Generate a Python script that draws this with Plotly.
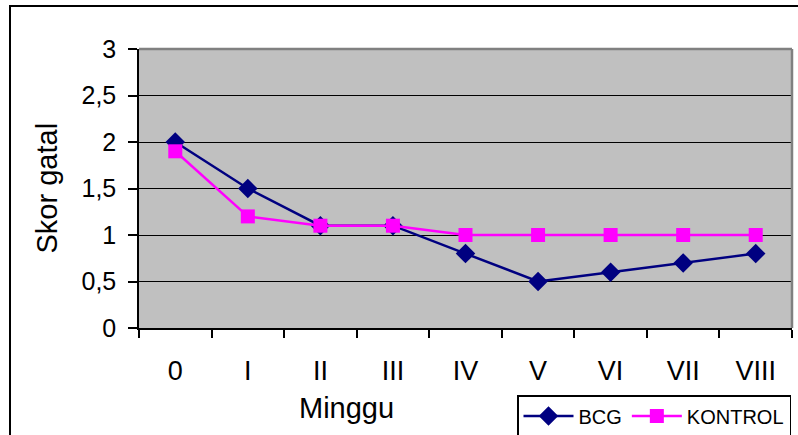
import plotly.graph_objects as go

weeks = ["0", "I", "II", "III", "IV", "V", "VI", "VII", "VIII"]
bcg = [2.0, 1.5, 1.1, 1.1, 0.8, 0.5, 0.6, 0.7, 0.8]
kontrol = [1.9, 1.2, 1.1, 1.1, 1.0, 1.0, 1.0, 1.0, 1.0]
y_ticks = [0, 0.5, 1, 1.5, 2, 2.5, 3]
y_tick_text = ["0", "0,5", "1", "1,5", "2", "2,5", "3"]

FONT = "Arial, Liberation Sans, sans-serif"

fig = go.Figure()
fig.add_trace(go.Scatter(
    x=weeks, y=bcg, name="BCG", mode="lines+markers",
    line=dict(color="#000080", width=2.5),
    marker=dict(symbol="diamond", size=15, color="#000080"),
))
fig.add_trace(go.Scatter(
    x=weeks, y=kontrol, name="KONTROL", mode="lines+markers",
    line=dict(color="#FF00FF", width=2.5),
    marker=dict(symbol="square", size=14, color="#FF00FF"),
))

L, R, T, B = 139, 6, 49, 107
W, H = 798, 435
pw, ph = W - L - R, H - T - B

def px(x):
    return (x - L) / pw

def py(y):
    return (H - B - y) / ph

fig.update_layout(
    width=W, height=H,
    margin=dict(l=L, r=R, t=T, b=B, autoexpand=False),
    paper_bgcolor="white",
    plot_bgcolor="#C0C0C0",
    font=dict(family=FONT, color="black"),
    showlegend=True,
    legend=dict(
        orientation="h", x=px(517), y=py(395), xanchor="left", yanchor="top",
        bordercolor="black", borderwidth=1.5, bgcolor="white",
        font=dict(size=20, family=FONT), itemwidth=50,
    ),
    xaxis=dict(
        type="category", range=[-0.5, 8.5], tickson="boundaries",
        ticks="outside", ticklen=8, tickcolor="black", tickwidth=1.5,
        showline=True, linecolor="black", linewidth=1.5,
        showgrid=False, tickfont=dict(size=27, family=FONT),
        ticklabelstandoff=18,
    ),
    yaxis=dict(
        range=[0, 3], tickvals=y_ticks, ticktext=y_tick_text,
        ticks="outside", ticklen=9, tickcolor="black", tickwidth=1.5,
        showline=True, linecolor="black", linewidth=1.5,
        showgrid=True, gridcolor="black", gridwidth=1,
        tickfont=dict(size=25, family=FONT), zeroline=False,
        ticklabelstandoff=7,
    ),
    shapes=[
        # outer chart frame
        dict(type="rect", xref="paper", yref="paper",
             x0=px(10), x1=px(805), y0=py(445), y1=py(6),
             line=dict(color="black", width=2), layer="below"),
        # gray top and right edges of the plot area
        dict(type="line", xref="paper", yref="paper", x0=0, x1=1, y0=1, y1=1,
             line=dict(color="#808080", width=2.5)),
        dict(type="line", xref="paper", yref="paper", x0=1, x1=1, y0=0, y1=1,
             line=dict(color="#808080", width=2.5)),
    ],
    annotations=[
        dict(text="Skor gatal", xref="paper", yref="paper", x=px(46), y=0.5,
             textangle=-90, showarrow=False, xanchor="center", yanchor="middle",
             font=dict(size=29, family=FONT)),
        dict(text="Minggu", xref="paper", yref="paper", x=px(346), y=py(408),
             showarrow=False, xanchor="center", yanchor="middle",
             font=dict(size=29, family=FONT)),
    ],
)

fig.write_html("out.html")
